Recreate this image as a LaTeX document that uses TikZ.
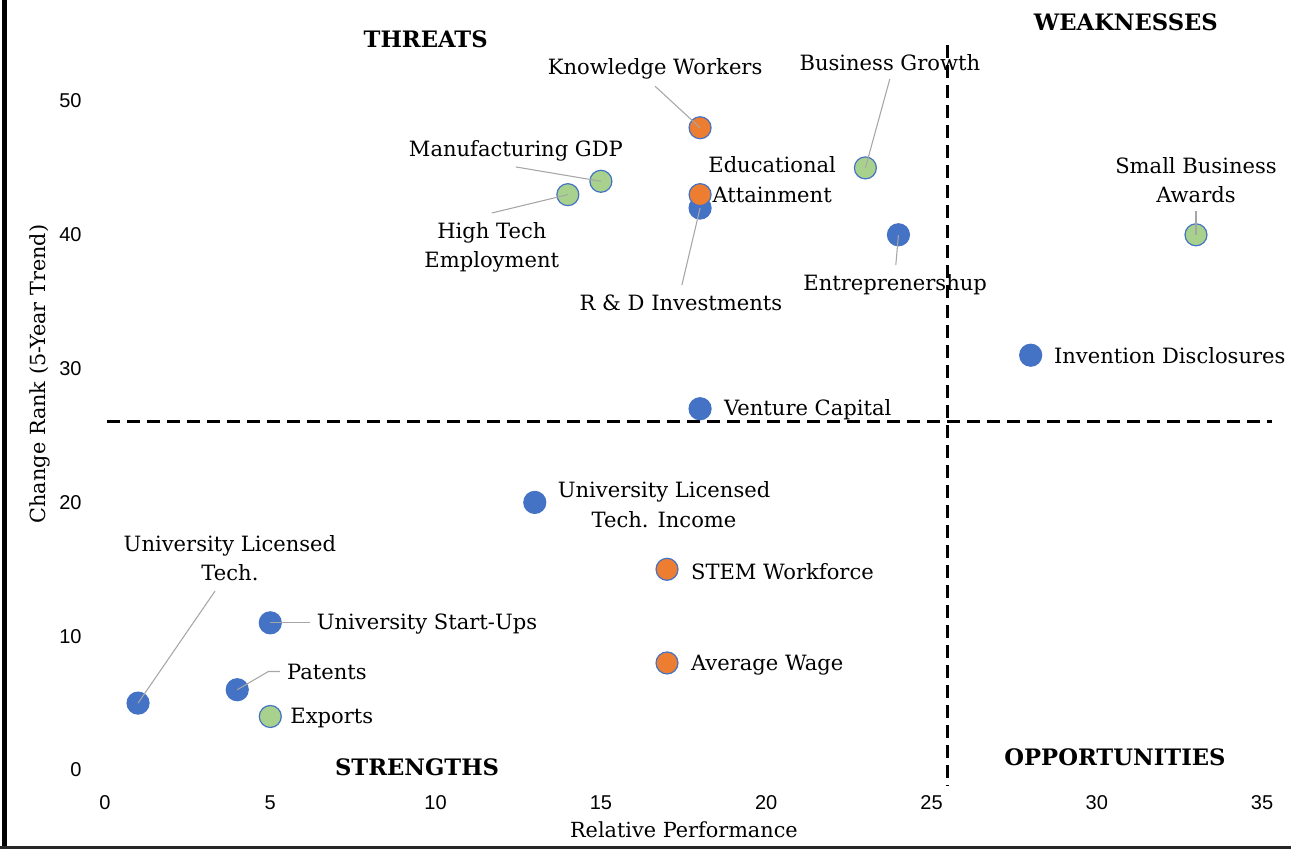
\documentclass[tikz,border=0pt]{standalone}
\usepackage{fontspec}
\setmainfont{DejaVu Serif}
\newfontfamily\tickfont{Liberation Sans}
\usepackage{tikz}

\definecolor{dotblue}{HTML}{4472C4}
\definecolor{dotorange}{HTML}{ED7D31}
\definecolor{dotgreen}{HTML}{A9D18E}
\definecolor{leadgray}{HTML}{A6A6A6}

\begin{document}
\begin{tikzpicture}[x=24.795pt, y=10.035pt,
    dot/.style={circle, draw=dotblue, line width=0.9pt, minimum size=16.5pt, inner sep=0pt},
    lbl/.style={font=\fontsize{15.8}{22}\selectfont, align=center, inner sep=0pt},
    quad/.style={font=\fontsize{17}{20}\selectfont\bfseries, inner sep=0pt},
    axlbl/.style={font=\fontsize{15.6}{18}\selectfont, inner sep=0pt},
    ticklbl/.style={font=\tickfont\fontsize{15}{18}\selectfont, inner sep=0pt},
    lead/.style={draw=leadgray, line width=0.8pt},
    quadline/.style={line width=2.2pt, dash pattern=on 9.75pt off 5.25pt}]
    \useasboundingbox (-3.176,-5.904) rectangle (35.874,57.549);
    % frame
    \draw[line width=3.75pt] (-3.04,-5.904) -- (-3.04,57.549);
    \draw[line width=2.25pt, black!85] (-3.176,-5.755) -- (35.874,-5.755);
    % quadrants
    \draw[quadline] (0.06,26.08) -- (35.3,26.08);
    \draw[quadline] (25.47,54.2) -- (25.47,-1.2);
    \node[quad] (thr) at (9.7,54.6) {THREATS};
    \node[quad] (wk) at (30.88,55.9) {WEAKNESSES};
    \node[quad] (str) at (9.44,0.22) {STRENGTHS};
    \node[quad] (opp) at (30.55,0.97) {OPPORTUNITIES};
    % axes
    \foreach \v in {0,5,...,35}
        \node[ticklbl] (x\v) at (\v,-2.47) {\v};
    \foreach \v in {0,10,...,50}
        \node[ticklbl, anchor=east] (y\v) at (-0.70,\v) {\v};
    \node[axlbl] (xt) at (17.51,-4.5) {Relative Performance};
    \node[axlbl, rotate=90] (yt) at (-1.97,29.6) {Change Rank (5-Year Trend)};
    % dots
    \node[dot, fill=dotblue] (ult) at (1,5) {};
    \node[dot, fill=dotblue] (pat) at (4,6) {};
    \node[dot, fill=dotgreen] (exp) at (5,4) {};
    \node[dot, fill=dotblue] (start) at (5,11) {};
    \node[dot, fill=dotblue] (ulti) at (13,20) {};
    \node[dot, fill=dotorange] (stem) at (17,15) {};
    \node[dot, fill=dotorange] (wage) at (17,8) {};
    \node[dot, fill=dotblue] (vc) at (18,27) {};
    \node[dot, fill=dotblue] (rd) at (18,42) {};
    \node[dot, fill=dotorange] (edu) at (18,43) {};
    \node[dot, fill=dotorange] (know) at (18,48) {};
    \node[dot, fill=dotgreen] (mfg) at (15,44) {};
    \node[dot, fill=dotgreen] (htech) at (14,43) {};
    \node[dot, fill=dotgreen] (bgrow) at (23,45) {};
    \node[dot, fill=dotblue] (entr) at (24,40) {};
    \node[dot, fill=dotgreen] (sba) at (33,40) {};
    \node[dot, fill=dotblue] (inv) at (28,31) {};
    % leader lines
    \coordinate (ult-e) at (3.33,13.38);
    \coordinate (pat-k) at (4.94,7.36);
    \coordinate (pat-e) at (5.29,7.36);
    \coordinate (start-e) at (6.2,11);
    \coordinate (rd-e) at (17.45,36.25);
    \coordinate (know-e) at (16.64,51.1);
    \coordinate (mfg-e) at (12.43,45.07);
    \coordinate (htech-e) at (11.7,41.63);
    \coordinate (bgrow-e) at (23.74,51.65);
    \coordinate (entr-e) at (23.92,37.74);
    \coordinate (sba-e) at (33,41.8);
    \draw[lead] (ult.center) -- (ult-e);
    \draw[lead] (pat.center) -- (pat-k) -- (pat-e);
    \draw[lead] (start.center) -- (start-e);
    \draw[lead] (rd.center) -- (rd-e);
    \draw[lead] (know.center) -- (know-e);
    \draw[lead] (mfg.center) -- (mfg-e);
    \draw[lead] (htech.center) -- (htech-e);
    \draw[lead] (bgrow.center) -- (bgrow-e);
    \draw[lead] (entr.center) -- (entr-e);
    \draw[lead] (sba.center) -- (sba-e);
    % labels
    \node[lbl] (ult-l) at (3.78,15.84) {University Licensed\\Tech.};
    \node[lbl, anchor=west] (pat-l) at (5.5,7.3) {Patents};
    \node[lbl, anchor=west] (exp-l) at (5.6,3.89) {Exports};
    \node[lbl, anchor=west] (start-l) at (6.4,10.9) {University Start-Ups};
    \node[lbl] (ulti-l) at (16.91,19.84) {University Licensed\\Tech. Income};
    \node[lbl, anchor=west] (stem-l) at (17.72,14.8) {STEM Workforce};
    \node[lbl, anchor=west] (wage-l) at (17.72,7.85) {Average Wage};
    \node[lbl, anchor=west] (vc-l) at (18.72,26.9) {Venture Capital};
    \node[lbl] (rd-l) at (17.42,34.9) {R \& D Investments};
    \node[lbl] (edu-l) at (20.18,44.13) {Educational\\Attainment};
    \node[lbl] (know-l) at (16.64,52.4) {Knowledge Workers};
    \node[lbl] (mfg-l) at (12.43,46.26) {Manufacturing GDP};
    \node[lbl] (htech-l) at (11.7,39.05) {High Tech\\Employment};
    \node[lbl] (bgrow-l) at (23.74,52.9) {Business Growth};
    \node[lbl] (entr-l) at (23.9,36.3) {Entreprenershup};
    \node[lbl] (sba-l) at (33.0,44.06) {Small Business\\Awards};
    \node[lbl, anchor=west] (inv-l) at (28.7,30.94) {Invention Disclosures};
\end{tikzpicture}
\end{document}
